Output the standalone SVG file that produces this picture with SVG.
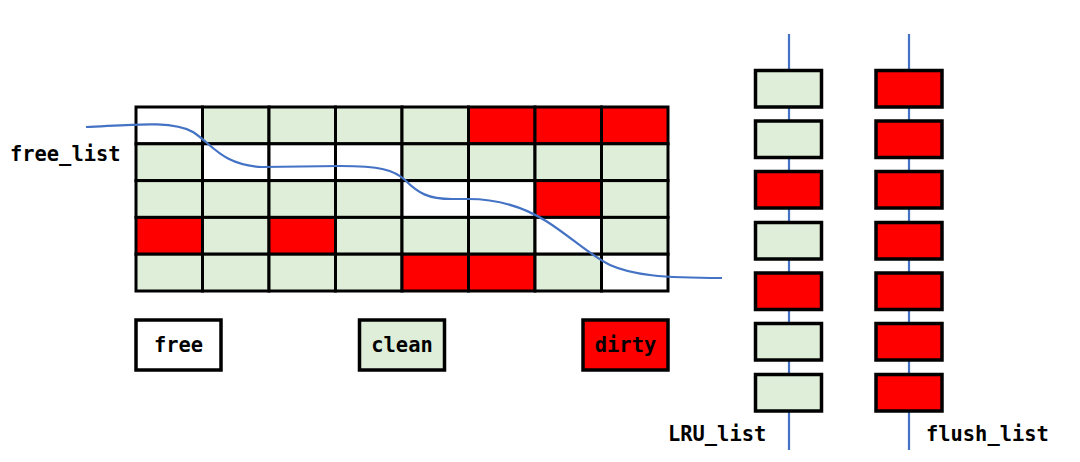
<svg xmlns="http://www.w3.org/2000/svg" width="1080" height="462" viewBox="0 0 1080 462">
<style>
.c{stroke:#000;stroke-width:3}
.w{fill:#fff}
.g{fill:#dfeed8}
.r{fill:#ff0000}
.b{stroke:#000;stroke-width:3.5}
.ln{stroke:#4472c4;stroke-width:2.2;fill:none}
.t{font-family:"DejaVu Sans Mono","Liberation Mono",monospace;font-weight:bold;font-size:20.4px;fill:#000}
</style>
<rect width="1080" height="462" fill="#fff"/>
<g id="connectors">
<line class="ln" x1="789" y1="34" x2="789" y2="450"/>
<line class="ln" x1="909" y1="34" x2="909" y2="450"/>
</g>
<g id="buffer_pool">
<rect class="c w" x="136" y="107" width="66.5" height="36.8"/>
<rect class="c g" x="202.5" y="107" width="66.5" height="36.8"/>
<rect class="c g" x="269" y="107" width="66.5" height="36.8"/>
<rect class="c g" x="335.5" y="107" width="66.5" height="36.8"/>
<rect class="c g" x="402" y="107" width="66.5" height="36.8"/>
<rect class="c r" x="468.5" y="107" width="66.5" height="36.8"/>
<rect class="c r" x="535" y="107" width="66.5" height="36.8"/>
<rect class="c r" x="601.5" y="107" width="66.5" height="36.8"/>

<rect class="c g" x="136" y="143.8" width="66.5" height="36.8"/>
<rect class="c w" x="202.5" y="143.8" width="66.5" height="36.8"/>
<rect class="c w" x="269" y="143.8" width="66.5" height="36.8"/>
<rect class="c w" x="335.5" y="143.8" width="66.5" height="36.8"/>
<rect class="c g" x="402" y="143.8" width="66.5" height="36.8"/>
<rect class="c g" x="468.5" y="143.8" width="66.5" height="36.8"/>
<rect class="c g" x="535" y="143.8" width="66.5" height="36.8"/>
<rect class="c g" x="601.5" y="143.8" width="66.5" height="36.8"/>

<rect class="c g" x="136" y="180.6" width="66.5" height="36.8"/>
<rect class="c g" x="202.5" y="180.6" width="66.5" height="36.8"/>
<rect class="c g" x="269" y="180.6" width="66.5" height="36.8"/>
<rect class="c g" x="335.5" y="180.6" width="66.5" height="36.8"/>
<rect class="c w" x="402" y="180.6" width="66.5" height="36.8"/>
<rect class="c w" x="468.5" y="180.6" width="66.5" height="36.8"/>
<rect class="c r" x="535" y="180.6" width="66.5" height="36.8"/>
<rect class="c g" x="601.5" y="180.6" width="66.5" height="36.8"/>

<rect class="c r" x="136" y="217.4" width="66.5" height="36.8"/>
<rect class="c g" x="202.5" y="217.4" width="66.5" height="36.8"/>
<rect class="c r" x="269" y="217.4" width="66.5" height="36.8"/>
<rect class="c g" x="335.5" y="217.4" width="66.5" height="36.8"/>
<rect class="c g" x="402" y="217.4" width="66.5" height="36.8"/>
<rect class="c g" x="468.5" y="217.4" width="66.5" height="36.8"/>
<rect class="c w" x="535" y="217.4" width="66.5" height="36.8"/>
<rect class="c g" x="601.5" y="217.4" width="66.5" height="36.8"/>

<rect class="c g" x="136" y="254.2" width="66.5" height="36.8"/>
<rect class="c g" x="202.5" y="254.2" width="66.5" height="36.8"/>
<rect class="c g" x="269" y="254.2" width="66.5" height="36.8"/>
<rect class="c g" x="335.5" y="254.2" width="66.5" height="36.8"/>
<rect class="c r" x="402" y="254.2" width="66.5" height="36.8"/>
<rect class="c r" x="468.5" y="254.2" width="66.5" height="36.8"/>
<rect class="c g" x="535" y="254.2" width="66.5" height="36.8"/>
<rect class="c w" x="601.5" y="254.2" width="66.5" height="36.8"/>
</g>
<g id="free_list_curve">
<path class="ln" d="M86,127 C130,125 172,120 193,132 C213,145 222,165 262,167 L340,166 C380,166 394,170 405,180 C418,193 428,199 452,199 L468,199 C498,199 522,206 546,221 C570,236 588,254 610,265 C632,275 662,278 722,278"/>
</g>
<g id="label_free_list"><text class="t" x="10" y="161">free_list</text></g>
<g id="legend_free"><rect class="b w" x="136" y="320" width="85" height="50"/><text class="t" x="178.5" y="352" text-anchor="middle">free</text></g>
<g id="legend_clean"><rect class="b g" x="359.5" y="320" width="85" height="50"/><text class="t" x="402" y="352" text-anchor="middle">clean</text></g>
<g id="legend_dirty"><rect class="b r" x="583" y="320" width="85" height="50"/><text class="t" x="625.5" y="352" text-anchor="middle">dirty</text></g>
<g id="lru_list">
<rect class="b g" x="755.5" y="70.5" width="66" height="36.5"/>
<rect class="b g" x="755.5" y="121" width="66" height="36.5"/>
<rect class="b r" x="755.5" y="171.5" width="66" height="36.5"/>
<rect class="b g" x="755.5" y="222.5" width="66" height="36.5"/>
<rect class="b r" x="755.5" y="273" width="66" height="36.5"/>
<rect class="b g" x="755.5" y="323.5" width="66" height="36.5"/>
<rect class="b g" x="755.5" y="374.5" width="66" height="36.5"/>
<text class="t" x="668" y="441">LRU_list</text>
</g>
<g id="flush_list">
<rect class="b r" x="876" y="70.5" width="66" height="36.5"/>
<rect class="b r" x="876" y="121" width="66" height="36.5"/>
<rect class="b r" x="876" y="171.5" width="66" height="36.5"/>
<rect class="b r" x="876" y="222.5" width="66" height="36.5"/>
<rect class="b r" x="876" y="273" width="66" height="36.5"/>
<rect class="b r" x="876" y="323.5" width="66" height="36.5"/>
<rect class="b r" x="876" y="374.5" width="66" height="36.5"/>
<text class="t" x="926" y="441">flush_list</text>
</g>
</svg>
